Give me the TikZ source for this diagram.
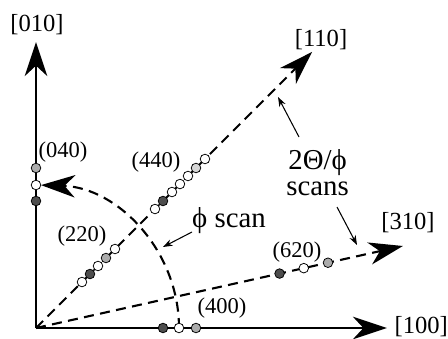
\documentclass[tikz,border=0pt]{standalone}
\usepackage{fontspec}
\setmainfont{Liberation Serif}
\usetikzlibrary{arrows.meta}
\definecolor{spotDark}{RGB}{77,77,77}
\definecolor{spotGray}{RGB}{171,171,171}
\definecolor{spotLight}{RGB}{214,214,214}
\begin{document}
\begin{tikzpicture}[line cap=butt,line join=miter,
  bigtip/.style={-{Stealth[length=0.85cm,width=0.56cm,inset=0.26cm]}},
  axisline/.style={bigtip,line width=2pt},
  scanline/.style={bigtip,line width=1.5pt,dash pattern=on 0.25cm off 0.16cm},
  pointer/.style={line width=0.75pt,-{Stealth[length=0.24cm,width=0.17cm]}},
  spot/.style={circle,draw=black,line width=0.55pt,inner sep=0pt,minimum size=0.24cm},
  axislabel/.style={font=\fontsize{17.5}{20}\selectfont},
  hkllabel/.style={font=\fontsize{16}{18}\selectfont},
  scanlabel/.style={font=\fontsize{20.5}{18.5}\selectfont,align=center}]
  \useasboundingbox (-0.9,-0.25) rectangle (10.3,8.2);
  \coordinate (O) at (0,0);
  \coordinate (X) at (8.775,0);
  \coordinate (Y) at (0,7.15);
  \coordinate (D110) at (45:9.76);
  \coordinate (D310) at (12.6:9.4);
  \coordinate (phiStart) at (3.575,0);
  % crystal axes and scan directions
  \draw[axisline] (O)--(X);
  \draw[axisline] (O)--(Y);
  \draw[scanline] (O)--(D110);
  \draw[scanline] (O)--(D310);
  \draw[scanline] (phiStart) arc[start angle=0,end angle=88,radius=3.575];
  % reflections
  \foreach \r/\c [count=\i] in {3.175/spotDark,3.575/white,4.0/spotGray} {
    \node[spot,fill=\c] (h\i) at (\r,0) {};
    \node[spot,fill=\c] (k\i) at (0,\r) {};
  }
  \foreach \r/\c [count=\i] in {1.626/white,1.909/spotDark,2.192/white,2.475/spotGray,2.793/white} {
    \node[spot,fill=\c] (a\i) at (45:\r) {};
  }
  \foreach \r/\c [count=\i] in {4.207/white,4.49/spotDark,4.808/white,5.09/white,5.374/white,5.657/spotLight,5.975/white} {
    \node[spot,fill=\c] (b\i) at (45:\r) {};
  }
  \foreach \r/\c [count=\i] in {6.24/spotDark,6.86/white,7.48/spotGray} {
    \node[spot,fill=\c] (c\i) at (12.6:\r) {};
  }
  % labels
  \node[axislabel] (l010) at (0.025,7.575) {[010]};
  \node[axislabel] (l100) at (9.63,0.03) {[100]};
  \node[axislabel] (l110) at (7.125,7.2) {[110]};
  \node[axislabel] (l310) at (9.3,2.625) {[310]};
  \node[hkllabel] (t040) at (0.675,4.4) {(040)};
  \node[hkllabel] (t220) at (1.15,2.3) {(220)};
  \node[hkllabel] (t440) at (3.0,4.15) {(440)};
  \node[hkllabel] (t400) at (4.65,0.5) {(400)};
  \node[hkllabel] (t620) at (6.525,1.9) {(620)};
  \node[scanlabel] (phiScan) at (4.825,2.675) {ϕ scan};
  \node[scanlabel] (scans) at (7.04,3.88) {2Θ/ϕ\\scans};
  % pointers
  \coordinate (phiFrom) at (3.9,2.4);
  \coordinate (phiTo) at (3.175,2.025);
  \coordinate (upFrom) at (6.575,4.775);
  \coordinate (upTo) at (6.05,5.775);
  \coordinate (downFrom) at (7.525,3.025);
  \coordinate (downTo) at (8.025,2.075);
  \draw[pointer] (phiFrom)--(phiTo);
  \draw[pointer] (upFrom)--(upTo);
  \draw[pointer] (downFrom)--(downTo);
\end{tikzpicture}
\end{document}
